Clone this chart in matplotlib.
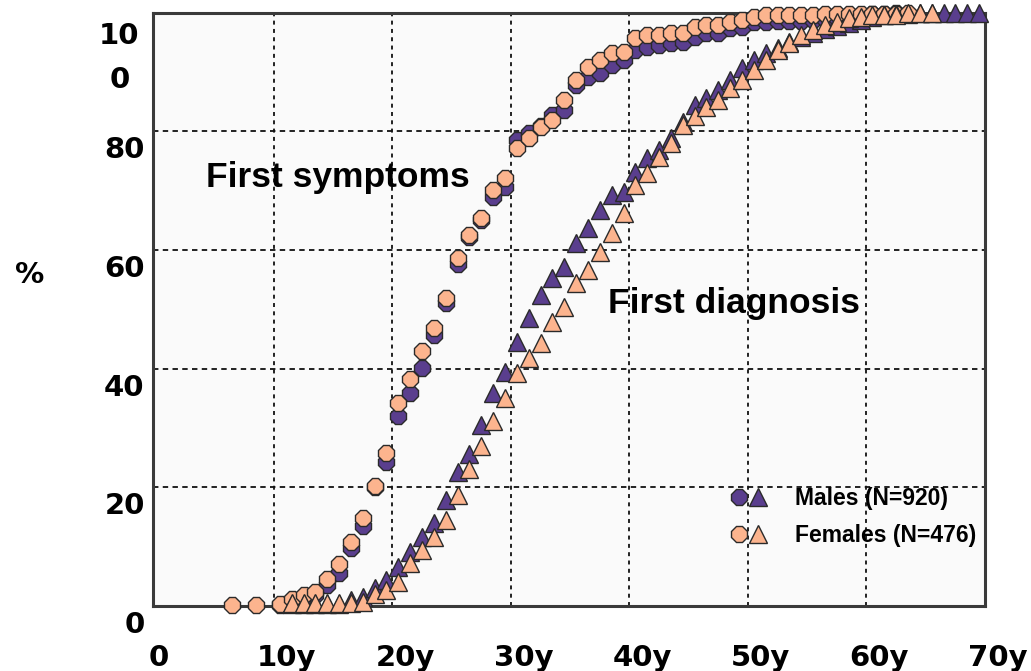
import matplotlib
matplotlib.use("Agg")
import matplotlib.pyplot as plt
from matplotlib import font_manager
from matplotlib.legend_handler import HandlerTuple
import matplotlib.transforms as mtransforms

# ---------------- data ----------------
sym_age_f = [6.5, 8.5] + [a + 0.5 for a in range(10, 64)]
sym_f = [0.2, 0.2,
         0.3, 1.2, 1.9, 2.4, 4.5, 7.1, 10.8, 14.9, 20.3, 25.8,
         34.2, 38.2, 43.0, 46.8, 51.9, 58.6, 62.5, 65.4, 70.1, 72.1,
         77.2, 78.9, 80.7, 81.9, 85.3, 88.6, 90.8, 92.0, 93.2, 93.3,
         95.7, 96.2, 96.2, 96.5, 96.6, 97.6, 97.9, 97.9, 98.4, 98.7,
         99.2, 99.5, 99.5, 99.5, 99.5, 99.6, 99.8, 99.8, 99.8, 99.8,
         99.8, 99.8, 99.8, 100.0]

sym_age_m = [a + 0.5 for a in range(10, 63)]
sym_m = [0.2, 0.8, 1.4, 1.9, 3.6, 5.6, 9.8, 13.5, 20.1, 24.3,
         32.0, 35.9, 40.1, 45.7, 51.1, 57.6, 62.2, 65.0, 68.9, 70.6,
         78.5, 79.7, 80.9, 82.7, 83.6, 87.8, 89.1, 89.8, 91.2, 92.0,
         93.7, 94.2, 94.5, 94.9, 95.0, 95.9, 96.5, 96.6, 97.4, 97.6,
         98.4, 98.4, 98.5, 98.5, 98.6, 98.7, 98.9, 99.1, 99.3, 99.5,
         99.7, 99.8, 100.0]

diag_age_f = [a + 0.5 for a in range(11, 66)]
diag_f = [0.5, 0.5, 0.5, 0.5, 0.5, 0.5, 0.7, 2.0, 2.7,
          4.0, 7.2, 9.4, 11.6, 14.5, 18.7, 23.1, 27.0, 31.1, 35.0,
          39.3, 41.8, 44.3, 47.9, 50.4, 54.4, 56.6, 59.6, 62.8, 66.2,
          70.9, 73.0, 75.7, 78.0, 81.0, 82.6, 84.1, 85.3, 87.3, 88.6,
          90.3, 92.0, 93.7, 94.9, 96.2, 97.0, 97.9, 98.4, 99.1, 99.2,
          99.6, 99.6, 99.6, 99.9, 99.9, 100.0]

diag_age_m = [a + 0.5 for a in range(11, 70)]
diag_m = [0.3, 0.3, 0.3, 0.3, 0.3, 1.0, 1.5, 3.0, 4.4,
          6.6, 9.1, 11.6, 14.0, 17.9, 22.6, 25.6, 30.5, 35.9, 39.4,
          44.5, 48.5, 52.4, 55.3, 57.1, 61.2, 63.7, 66.7, 69.3, 69.8,
          73.1, 75.5, 76.8, 78.9, 81.6, 84.4, 85.6, 86.9, 88.6, 90.6,
          92.0, 93.2, 94.0, 95.0, 95.8, 96.5, 97.2, 97.8, 98.3, 98.8,
          99.2, 99.5, 99.7, 99.8, 99.9, 100.0, 100.0, 100.0, 100.0, 100.0]

x_ticks = [0, 10, 20, 30, 40, 50, 60, 70]
x_labels = ["0", "10y", "20y", "30y", "40y", "50y", "60y", "70y"]
y_ticks = [0, 20, 40, 60, 80, 100]
y_labels = ["0", "20", "40", "60", "80", "10\n0"]
legend_labels = ["Males (N=920)", "Females (N=476)"]

# ---------------- style ----------------
PURPLE = "#5a3e8e"
ORANGE = "#fcb48e"
EDGE = "#2a2a2a"

names = {f.name for f in font_manager.fontManager.ttflist}
if "Liberation Sans Narrow" in names:
    leg_font = dict(family="Liberation Sans Narrow", weight="bold", size=20)
else:
    leg_font = dict(family="Liberation Sans", weight="bold", size=16.5)

fig = plt.figure(figsize=(10.31, 6.71), dpi=100)
ax = fig.add_axes([153 / 1031, 1 - 606 / 671, 832 / 1031, 593.5 / 671])
ax.set_facecolor("#fafafa")
ax.set_xlim(-0.2, 70)
ax.set_ylim(0, 100)

for s in ax.spines.values():
    s.set_color("#3a3a3a")
    s.set_linewidth(2.2)

# grid
for xv in x_ticks[1:-1]:
    ax.axvline(xv, color="#111111", lw=1.3, ls=(0, (2.2, 2.4)), zorder=1)
for yv in y_ticks[1:-1]:
    ax.axhline(yv, color="#111111", lw=1.3, ls=(0, (3, 2.4)), zorder=1)

ms = 12.3
kw = dict(ls="none", markeredgecolor=EDGE, markeredgewidth=1.0, clip_on=False)
m_c, = ax.plot(sym_age_m, sym_m, marker="8", ms=ms, color=PURPLE, zorder=3, **kw)
f_c, = ax.plot(sym_age_f, sym_f, marker="8", ms=ms, color=ORANGE, zorder=4, **kw)
m_t, = ax.plot(diag_age_m, diag_m, marker="^", ms=ms, color=PURPLE, zorder=5, **kw)
f_t, = ax.plot(diag_age_f, diag_f, marker="^", ms=ms, color=ORANGE, zorder=6, **kw)

# ticks / labels
tick_font = dict(family="DejaVu Sans", weight="bold", size=21)
ax.set_xticks(x_ticks)
ax.set_xticklabels(x_labels, **tick_font)
ax.set_yticks(y_ticks)
ax.set_yticklabels(y_labels, **tick_font)
ax.tick_params(length=0)
ax.tick_params(axis="x", pad=27)
ax.tick_params(axis="y", pad=6)

for i, lab in enumerate(ax.get_xticklabels()):
    dx = 3 if i == 0 else 13
    lab.set_transform(lab.get_transform() + mtransforms.ScaledTranslation(dx / 100, 0, fig.dpi_scale_trans))
for i, lab in enumerate(ax.get_yticklabels()):
    if i == len(y_ticks) - 1:
        lab.set_multialignment("center")
        lab.set_linespacing(1.75)
        lab.set_transform(lab.get_transform() + mtransforms.ScaledTranslation(-5 / 100, -34 / 100, fig.dpi_scale_trans))
    else:
        lab.set_transform(lab.get_transform() + mtransforms.ScaledTranslation(0, -16 / 100, fig.dpi_scale_trans))

fig.text(30 / 1031, 1 - 275 / 671, "%", ha="center", va="center", **tick_font)

ann_font = dict(family="Liberation Sans", weight="bold", size=25.5)
ax.text(4.25, 72.2, "First symptoms", ha="left", va="center", zorder=7, **ann_font)
ax.text(38.15, 51.0, "First diagnosis", ha="left", va="center", zorder=7, **ann_font)

leg = ax.legend([(m_c, m_t), (f_c, f_t)], legend_labels,
                handler_map={tuple: HandlerTuple(ndivide=None, pad=0.22)},
                loc="upper left", bbox_to_anchor=(732 / 1031, 1 - 487 / 671),
                bbox_transform=fig.transFigure, frameon=False,
                handlelength=1.45, handletextpad=1.3, labelspacing=0.6,
                borderpad=0, borderaxespad=0, prop=leg_font)
leg.set_zorder(8)

fig.savefig("out.png", dpi=100, facecolor="white")
